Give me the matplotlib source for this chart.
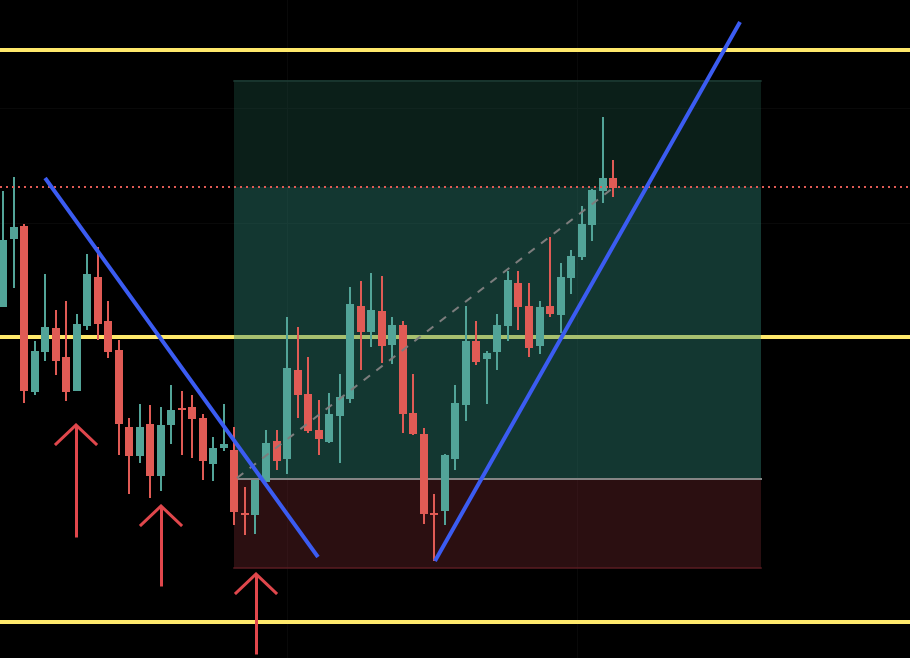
import matplotlib
matplotlib.use("Agg")
import matplotlib.pyplot as plt
from matplotlib.patches import Rectangle

# ---- candle data (price values read as chart units, axis inverted) ----
opens  = [307, 239, 226, 392, 352, 328, 357, 391, 326, 277, 321, 350, 427, 456, 424, 476, 425, 408, 407, 418,
          464, 448, 450, 513, 515, 482, 441, 459, 370, 394, 430, 442, 416, 399, 306, 332, 311, 345, 325, 413,
          434, 513, 511, 459, 405, 341, 359, 352, 326, 283, 306, 346, 306, 315, 278, 257, 225, 191, 178]
closes = [240, 227, 391, 351, 327, 361, 392, 324, 274, 324, 352, 424, 456, 427, 476, 425, 410, 409, 419, 461,
          448, 444, 512, 515, 480, 443, 461, 368, 395, 431, 439, 414, 397, 304, 332, 310, 346, 325, 414, 434,
          514, 515, 455, 403, 341, 362, 353, 325, 280, 307, 348, 307, 314, 277, 256, 224, 190, 178, 188]
highs  = [191, 177, 224, 341, 274, 310, 301, 314, 254, 247, 301, 340, 418, 404, 405, 407, 385, 391, 395, 414,
          437, 404, 427, 487, 480, 430, 430, 317, 327, 357, 400, 393, 374, 287, 281, 273, 276, 317, 321, 374,
          428, 494, 454, 385, 306, 321, 351, 314, 271, 271, 283, 301, 237, 263, 250, 206, 189, 117, 160]
lows   = [307, 288, 403, 395, 361, 375, 401, 391, 330, 340, 358, 455, 494, 463, 498, 491, 444, 455, 458, 480,
          481, 451, 525, 535, 534, 482, 470, 474, 418, 433, 455, 443, 463, 403, 370, 347, 363, 364, 433, 435,
          524, 561, 525, 470, 421, 365, 404, 370, 341, 330, 357, 354, 317, 333, 294, 260, 241, 203, 197]

# ---- drawing objects ----
h_levels = [49.7, 336.5, 621.5]           # yellow horizontal levels
dotted_level = 187                         # red dotted level
box_left, box_right = 21.96, 72.05         # position box (candle index units)
box_top, box_mid, box_entry, box_stop = 80, 187, 479, 568
trend_down = ([4.0, 29.94], [178, 557])
trend_up = ([41.06, 70.06], [561, 22])
dashed = ([22.24, 57.98], [478, 188])
arrow_idx = [6.94, 15.02, 24.05]
arrow_tip = [425, 506, 574]
arrow_tail = [537, 586, 654]

GREEN = '#52a498'
RED = '#e05b55'
PX = 0.72  # points per pixel at dpi 100
STEP = 10.52  # pixels per candle

fig = plt.figure(figsize=(9.1, 6.58), dpi=100)
fig.patch.set_facecolor('black')
ax = fig.add_axes([0, 0, 1, 1])
ax.set_facecolor('black')
ax.set_xlim(-3 / STEP, (910 - 3) / STEP)
ax.set_ylim(658, 0)
ax.axis('off')

# faint grid
for gx in [(287 - 3) / STEP, (577 - 3) / STEP]:
    ax.axvline(gx, color='#090909', lw=1 * PX, zorder=0)
for gy in [108, 223]:
    ax.axhline(gy, color='#090909', lw=1 * PX, zorder=0)

# yellow levels
for y in h_levels:
    ax.axhline(y, color='#ffe96b', lw=4 * PX, zorder=1)

# position box
w = box_right - box_left
ax.add_patch(Rectangle((box_left, box_top), w, box_mid - box_top, facecolor='#1e4e41', alpha=0.4,
                       edgecolor='none', zorder=2))
ax.add_patch(Rectangle((box_left, box_mid), w, box_entry - box_mid, facecolor='#2f8576', alpha=0.42,
                       edgecolor='none', zorder=2))
ax.add_patch(Rectangle((box_left, box_entry), w, box_stop - box_entry, facecolor='#6e262d', alpha=0.4,
                       edgecolor='none', zorder=2))
ax.plot([box_left, box_right], [box_top + 0.5, box_top + 0.5], color='#1d3b34', lw=1.5 * PX, zorder=2)
ax.plot([box_left, box_right], [box_stop - 0.5, box_stop - 0.5], color='#5a1c22', lw=1.5 * PX, zorder=2)
ax.plot([box_left, box_right], [box_entry, box_entry], color='#858585', lw=2 * PX, zorder=3)

# candles
idx = list(range(len(opens)))
for i in idx:
    o, c, h, l = opens[i], closes[i], highs[i], lows[i]
    col = GREEN if c <= o else RED
    ax.bar(i, l - h, bottom=h, width=2 / STEP, color=col, zorder=4, linewidth=0)
    top = min(o, c)
    hgt = max(abs(o - c), 2)
    if abs(o - c) < 2:
        top = (o + c) / 2 - 1
    ax.bar(i, hgt, bottom=top, width=8 / STEP, color=col, zorder=4, linewidth=0)

# red dotted level
ax.axhline(dotted_level, color=RED, lw=2 * PX, linestyle=(0, (1, 2)), zorder=5)

# grey dashed guide
ax.plot(dashed[0], dashed[1], color='#7d7d7d', lw=2 * PX, linestyle=(0, (4, 4)), zorder=5)

# blue trend lines
for tx, ty in [trend_down, trend_up]:
    ax.plot(tx, ty, color='#3b5cf2', lw=4 * PX, solid_capstyle='butt', zorder=6)

# red arrows
dx = 20 / STEP
for x, t, b in zip(arrow_idx, arrow_tip, arrow_tail):
    ax.plot([x, x], [t, b], color='#e0474c', lw=3 * PX, solid_capstyle='butt', zorder=6)
    ax.plot([x - dx, x, x + dx], [t + 19, t, t + 19], color='#e0474c', lw=3 * PX,
            solid_joinstyle='miter', zorder=6)

fig.savefig('out.png', dpi=100, facecolor='black')
